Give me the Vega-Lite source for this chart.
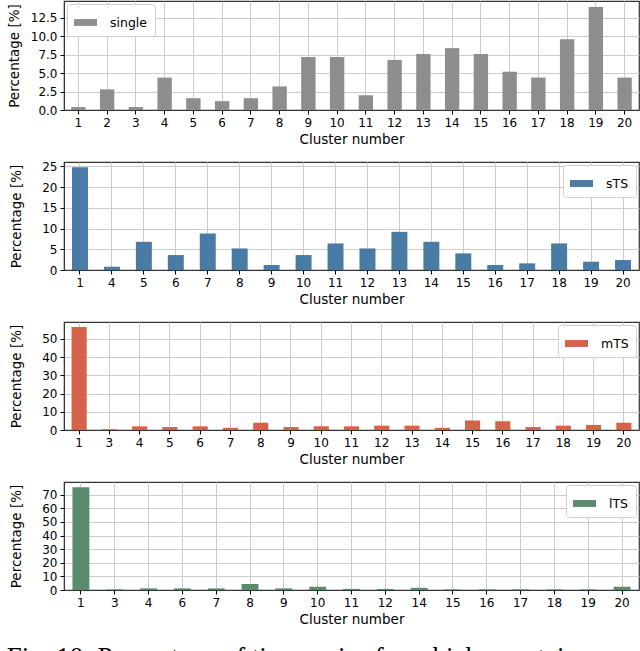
{
  "$schema": "https://vega.github.io/schema/vega-lite/v6.json",
  "padding": {"left": 6, "top": 0, "right": 0, "bottom": 0},
  "background": "white",
  "bounds": "flush",
  "spacing": 52,
  "title": {
    "text": "Fig. 10: Percentage of time series for which a certain",
    "orient": "bottom",
    "anchor": "start",
    "font": "Liberation Serif",
    "fontSize": 27,
    "fontWeight": "normal",
    "color": "black",
    "offset": 19
  },
  "data": {
    "values": [
      {"series": "single", "cluster": 1, "pct": 0.4},
      {"series": "single", "cluster": 2, "pct": 2.8},
      {"series": "single", "cluster": 3, "pct": 0.4},
      {"series": "single", "cluster": 4, "pct": 4.4},
      {"series": "single", "cluster": 5, "pct": 1.6},
      {"series": "single", "cluster": 6, "pct": 1.2},
      {"series": "single", "cluster": 7, "pct": 1.6},
      {"series": "single", "cluster": 8, "pct": 3.2},
      {"series": "single", "cluster": 9, "pct": 7.2},
      {"series": "single", "cluster": 10, "pct": 7.2},
      {"series": "single", "cluster": 11, "pct": 2.0},
      {"series": "single", "cluster": 12, "pct": 6.8},
      {"series": "single", "cluster": 13, "pct": 7.6},
      {"series": "single", "cluster": 14, "pct": 8.4},
      {"series": "single", "cluster": 15, "pct": 7.6},
      {"series": "single", "cluster": 16, "pct": 5.2},
      {"series": "single", "cluster": 17, "pct": 4.4},
      {"series": "single", "cluster": 18, "pct": 9.6},
      {"series": "single", "cluster": 19, "pct": 14.0},
      {"series": "single", "cluster": 20, "pct": 4.4},

      {"series": "sTS", "cluster": 1, "pct": 24.8},
      {"series": "sTS", "cluster": 4, "pct": 0.8},
      {"series": "sTS", "cluster": 5, "pct": 6.8},
      {"series": "sTS", "cluster": 6, "pct": 3.6},
      {"series": "sTS", "cluster": 7, "pct": 8.8},
      {"series": "sTS", "cluster": 8, "pct": 5.2},
      {"series": "sTS", "cluster": 9, "pct": 1.2},
      {"series": "sTS", "cluster": 10, "pct": 3.6},
      {"series": "sTS", "cluster": 11, "pct": 6.4},
      {"series": "sTS", "cluster": 12, "pct": 5.2},
      {"series": "sTS", "cluster": 13, "pct": 9.2},
      {"series": "sTS", "cluster": 14, "pct": 6.8},
      {"series": "sTS", "cluster": 15, "pct": 4.0},
      {"series": "sTS", "cluster": 16, "pct": 1.2},
      {"series": "sTS", "cluster": 17, "pct": 1.6},
      {"series": "sTS", "cluster": 18, "pct": 6.4},
      {"series": "sTS", "cluster": 19, "pct": 2.0},
      {"series": "sTS", "cluster": 20, "pct": 2.4},

      {"series": "mTS", "cluster": 1, "pct": 56.4},
      {"series": "mTS", "cluster": 3, "pct": 0.4},
      {"series": "mTS", "cluster": 4, "pct": 2.0},
      {"series": "mTS", "cluster": 5, "pct": 1.6},
      {"series": "mTS", "cluster": 6, "pct": 2.0},
      {"series": "mTS", "cluster": 7, "pct": 1.2},
      {"series": "mTS", "cluster": 8, "pct": 4.0},
      {"series": "mTS", "cluster": 9, "pct": 1.6},
      {"series": "mTS", "cluster": 10, "pct": 2.0},
      {"series": "mTS", "cluster": 11, "pct": 2.0},
      {"series": "mTS", "cluster": 12, "pct": 2.4},
      {"series": "mTS", "cluster": 13, "pct": 2.4},
      {"series": "mTS", "cluster": 14, "pct": 1.2},
      {"series": "mTS", "cluster": 15, "pct": 5.2},
      {"series": "mTS", "cluster": 16, "pct": 4.8},
      {"series": "mTS", "cluster": 17, "pct": 1.6},
      {"series": "mTS", "cluster": 18, "pct": 2.4},
      {"series": "mTS", "cluster": 19, "pct": 2.8},
      {"series": "mTS", "cluster": 20, "pct": 4.0},

      {"series": "lTS", "cluster": 1, "pct": 75.6},
      {"series": "lTS", "cluster": 3, "pct": 0.4},
      {"series": "lTS", "cluster": 4, "pct": 1.2},
      {"series": "lTS", "cluster": 6, "pct": 1.2},
      {"series": "lTS", "cluster": 7, "pct": 1.2},
      {"series": "lTS", "cluster": 8, "pct": 4.4},
      {"series": "lTS", "cluster": 9, "pct": 1.2},
      {"series": "lTS", "cluster": 10, "pct": 2.4},
      {"series": "lTS", "cluster": 11, "pct": 0.8},
      {"series": "lTS", "cluster": 12, "pct": 0.8},
      {"series": "lTS", "cluster": 14, "pct": 1.6},
      {"series": "lTS", "cluster": 15, "pct": 0.4},
      {"series": "lTS", "cluster": 16, "pct": 0.4},
      {"series": "lTS", "cluster": 17, "pct": 0.4},
      {"series": "lTS", "cluster": 18, "pct": 0.4},
      {"series": "lTS", "cluster": 19, "pct": 0.4},
      {"series": "lTS", "cluster": 20, "pct": 2.4}
    ]
  },
  "vconcat": [
    {
      "width": 575,
      "height": 109,
      "transform": [{"filter": "datum.series === 'single'"}],
      "mark": {"type": "bar"},
      "encoding": {
        "x": {"field": "cluster", "type": "ordinal", "scale": {"paddingInner": 0.5, "paddingOuter": 0.25}, "axis": {"title": "Cluster number", "labelAngle": 0, "bandPosition": 0.5}},
        "y": {"field": "pct", "type": "quantitative", "scale": {"domain": [0, 14.8], "nice": false}, "axis": {"title": "Percentage [%]", "values": [0, 2.5, 5, 7.5, 10, 12.5], "format": ".1f"}},
        "fill": {"field": "series", "type": "nominal", "scale": {"domain": ["single"], "range": ["#8e8e8e"]}, "legend": {"orient": "top-left"}}
      }
    },
    {
      "width": 575,
      "height": 108,
      "transform": [{"filter": "datum.series === 'sTS'"}],
      "mark": {"type": "bar"},
      "encoding": {
        "x": {"field": "cluster", "type": "ordinal", "scale": {"paddingInner": 0.5, "paddingOuter": 0.25}, "axis": {"title": "Cluster number", "labelAngle": 0, "bandPosition": 0.5}},
        "y": {"field": "pct", "type": "quantitative", "scale": {"domain": [0, 26.04], "nice": false}, "axis": {"title": "Percentage [%]", "values": [0, 5, 10, 15, 20, 25], "titlePadding": 18}},
        "fill": {"field": "series", "type": "nominal", "scale": {"domain": ["sTS"], "range": ["#4a7aa6"]}, "legend": {"orient": "top-right"}}
      }
    },
    {
      "width": 575,
      "height": 108,
      "transform": [{"filter": "datum.series === 'mTS'"}],
      "mark": {"type": "bar"},
      "encoding": {
        "x": {"field": "cluster", "type": "ordinal", "scale": {"paddingInner": 0.5, "paddingOuter": 0.25}, "axis": {"title": "Cluster number", "labelAngle": 0, "bandPosition": 0.5}},
        "y": {"field": "pct", "type": "quantitative", "scale": {"domain": [0, 59.2], "nice": false}, "axis": {"title": "Percentage [%]", "values": [0, 10, 20, 30, 40, 50], "titlePadding": 18}},
        "fill": {"field": "series", "type": "nominal", "scale": {"domain": ["mTS"], "range": ["#d4634a"]}, "legend": {"orient": "top-right"}}
      }
    },
    {
      "width": 575,
      "height": 108,
      "transform": [{"filter": "datum.series === 'lTS'"}],
      "mark": {"type": "bar"},
      "encoding": {
        "x": {"field": "cluster", "type": "ordinal", "scale": {"paddingInner": 0.5, "paddingOuter": 0.25}, "axis": {"title": "Cluster number", "labelAngle": 0, "bandPosition": 0.5}},
        "y": {"field": "pct", "type": "quantitative", "scale": {"domain": [0, 79.4], "nice": false}, "axis": {"title": "Percentage [%]", "values": [0, 10, 20, 30, 40, 50, 60, 70], "titlePadding": 18}},
        "fill": {"field": "series", "type": "nominal", "scale": {"domain": ["lTS"], "range": ["#5b8b6d"]}, "legend": {"orient": "top-right"}}
      }
    }
  ],
  "resolve": {"scale": {"fill": "independent", "x": "independent", "y": "independent"}, "legend": {"fill": "independent"}},
  "config": {
    "font": "DejaVu Sans",
    "view": {"stroke": "#333333", "strokeWidth": 1.2},
    "axis": {
      "labelFont": "DejaVu Sans",
      "titleFont": "DejaVu Sans",
      "labelFontSize": 12,
      "titleFontSize": 13.5,
      "titleFontWeight": "normal",
      "labelColor": "black",
      "titleColor": "black",
      "tickColor": "black",
      "tickSize": 4,
      "labelPadding": 3,
      "domainColor": "#333333",
      "grid": true,
      "gridColor": "#cccccc",
      "gridWidth": 1,
      "labelFlush": false,
      "titlePadding": 4
    },
    "axisY": {"titlePadding": 9},
    "legend": {
      "title": null,
      "labelFont": "DejaVu Sans",
      "labelFontSize": 12.5,
      "labelColor": "black",
      "symbolType": "M-1,-0.3L1,-0.3L1,0.3L-1,0.3Z",
      "symbolSize": 529,
      "symbolStrokeWidth": 0,
      "labelOffset": 13,
      "padding": 7,
      "offset": 3,
      "fillColor": "white",
      "strokeColor": "#d0d0d0",
      "cornerRadius": 3
    }
  }
}
